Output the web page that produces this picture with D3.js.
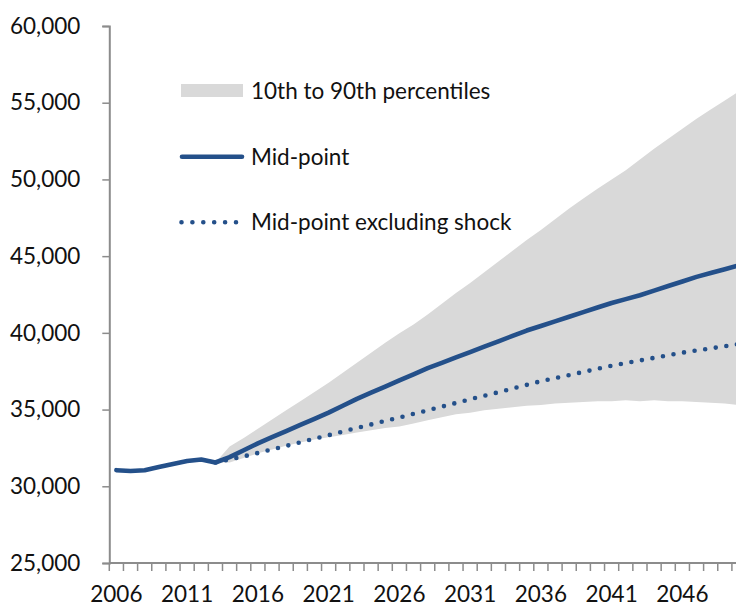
<!DOCTYPE html>
<html>
<head>
<meta charset="utf-8">
<script src="https://cdn.jsdelivr.net/npm/d3@7"></script>
<style>
  html, body { margin: 0; padding: 0; background: #fff; }
  svg { display: block; font-family: Lato, "Open Sans", sans-serif; }
</style>
</head>
<body>
<svg id="chart" width="736" height="605"></svg>
<script>
// Years on the category axis
const years = d3.range(2006, 2051);

// Mid-point projection (history 2006-2013, projection after)
const midPoint = [
  31050, 31000, 31050, 31250, 31450, 31650, 31750, 31550,
  31900, 32350, 32800, 33200, 33600, 34000, 34400, 34800,
  35250, 35700, 36100, 36500, 36900, 37300, 37700, 38050,
  38400, 38750, 39100, 39450, 39800, 40150, 40450, 40750,
  41050, 41350, 41650, 41950, 42200, 42450, 42750, 43050,
  43350, 43650, 43900, 44150, 44400
];

// Projection years for the band and the no-shock line
const projYears = d3.range(2013, 2051);

// Mid-point excluding shock
const midNoShock = [
  31550, 31750, 31950, 32170, 32400, 32630, 32870, 33100,
  33330, 33570, 33800, 34030, 34260, 34480, 34720, 34950,
  35190, 35430, 35670, 35900, 36130, 36370, 36610, 36850,
  37050, 37250, 37450, 37660, 37860, 38030, 38200, 38370,
  38540, 38710, 38850, 38990, 39130, 39270
];

// 10th percentile
const p10 = [
  31550, 31550, 31850, 32150, 32400, 32650, 32850, 33050,
  33200, 33350, 33500, 33650, 33800, 33900, 34100, 34300,
  34500, 34700, 34800, 34950, 35050, 35150, 35250, 35300,
  35400, 35450, 35500, 35550, 35550, 35600, 35550, 35600,
  35550, 35550, 35500, 35450, 35400, 35300
];

// 90th percentile
const p90 = [
  31550, 32600, 33150, 33750, 34350, 34950, 35550, 36150,
  36750, 37400, 38050, 38700, 39350, 39970, 40550, 41200,
  41900, 42600, 43250, 43950, 44650, 45350, 46050, 46700,
  47400, 48100, 48750, 49400, 50000, 50600, 51300, 52000,
  52650, 53300, 53950, 54550, 55150, 55750
];

const yTicks = [25000, 30000, 35000, 40000, 45000, 50000, 55000, 60000];
const labelYears = years.filter(y => (y - 2006) % 5 === 0);

const legendItems = [
  "10th to 90th percentiles",
  "Mid-point",
  "Mid-point excluding shock"
];

const navy = "#24508a";
const bandFill = "#d9d9d9";
const axisGrey = "#8c8c8c";
const fontSize = "22.5px";

const svg = d3.select("#chart");

const plotLeft = 109.3, plotTop = 26, plotBottom = 563, step = 14.15;
const x = d3.scaleBand()
  .domain(years)
  .range([plotLeft, plotLeft + step * years.length])
  .padding(0);
const cx = yr => x(yr) + x.bandwidth() / 2;

const y = d3.scaleLinear().domain([25000, 60000]).range([plotBottom, plotTop]);

// Percentile band
const bandData = projYears.map((yr, i) => ({ yr, lo: p10[i], hi: p90[i] }));
svg.append("path")
  .datum(bandData)
  .attr("fill", bandFill)
  .attr("d", d3.area()
    .x(d => cx(d.yr))
    .y0(d => y(d.lo))
    .y1(d => y(d.hi)));

// Mid-point excluding shock (dotted)
svg.append("path")
  .datum(projYears.map((yr, i) => ({ yr, v: midNoShock[i] })))
  .attr("fill", "none")
  .attr("stroke", navy)
  .attr("stroke-width", 4.6)
  .attr("stroke-linecap", "round")
  .attr("stroke-dasharray", "0 10.7")
  .attr("d", d3.line().x(d => cx(d.yr)).y(d => y(d.v)));

// Mid-point (solid)
svg.append("path")
  .datum(years.map((yr, i) => ({ yr, v: midPoint[i] })))
  .attr("fill", "none")
  .attr("stroke", navy)
  .attr("stroke-width", 4.6)
  .attr("stroke-linecap", "round")
  .attr("stroke-linejoin", "round")
  .attr("d", d3.line().x(d => cx(d.yr)).y(d => y(d.v)));

// Y axis
const yAxis = svg.append("g")
  .attr("transform", `translate(${plotLeft},0)`)
  .call(d3.axisLeft(y).tickValues(yTicks).tickFormat(d3.format(",")).tickSize(7).tickPadding(22));
yAxis.select(".domain").attr("stroke", axisGrey).attr("stroke-width", 2);
yAxis.selectAll(".tick line").attr("stroke", axisGrey).attr("stroke-width", 1.5);
yAxis.selectAll(".tick text")
  .attr("fill", "#111")
  .style("font-family", "Lato, sans-serif")
  .style("font-size", fontSize);

// X axis: tick marks at category boundaries, labels every five years
const xAxis = svg.append("g").attr("transform", `translate(0,${plotBottom})`);
xAxis.append("line")
  .attr("x1", plotLeft).attr("x2", x.range()[1])
  .attr("stroke", axisGrey).attr("stroke-width", 2);
xAxis.selectAll("line.tk")
  .data(years.concat([null]))
  .join("line")
  .attr("class", "tk")
  .attr("x1", d => d === null ? x.range()[1] : x(d))
  .attr("x2", d => d === null ? x.range()[1] : x(d))
  .attr("y1", 0).attr("y2", 8)
  .attr("stroke", axisGrey).attr("stroke-width", 1.5);
xAxis.selectAll("text")
  .data(labelYears)
  .join("text")
  .attr("x", d => cx(d))
  .attr("y", 38.5)
  .attr("text-anchor", "middle")
  .attr("fill", "#111")
  .style("font-size", fontSize)
  .text(d => d);

// Legend
const lg = svg.append("g").style("font-size", fontSize).attr("fill", "#111");
lg.append("rect").attr("x", 181).attr("y", 84).attr("width", 62).attr("height", 13).attr("fill", bandFill);
lg.append("line").attr("x1", 182).attr("x2", 242).attr("y1", 156.7).attr("y2", 156.7)
  .attr("stroke", navy).attr("stroke-width", 4.6).attr("stroke-linecap", "round");
lg.append("line").attr("x1", 181.5).attr("x2", 236).attr("y1", 222.3).attr("y2", 222.3)
  .attr("stroke", navy).attr("stroke-width", 4.6).attr("stroke-linecap", "round")
  .attr("stroke-dasharray", "0 10.9");
lg.selectAll("text.lt")
  .data(legendItems)
  .join("text")
  .attr("class", "lt")
  .attr("x", 251)
  .attr("y", (d, i) => [98.5, 164.5, 230][i])
  .text(d => d);
</script>
</body>
</html>
